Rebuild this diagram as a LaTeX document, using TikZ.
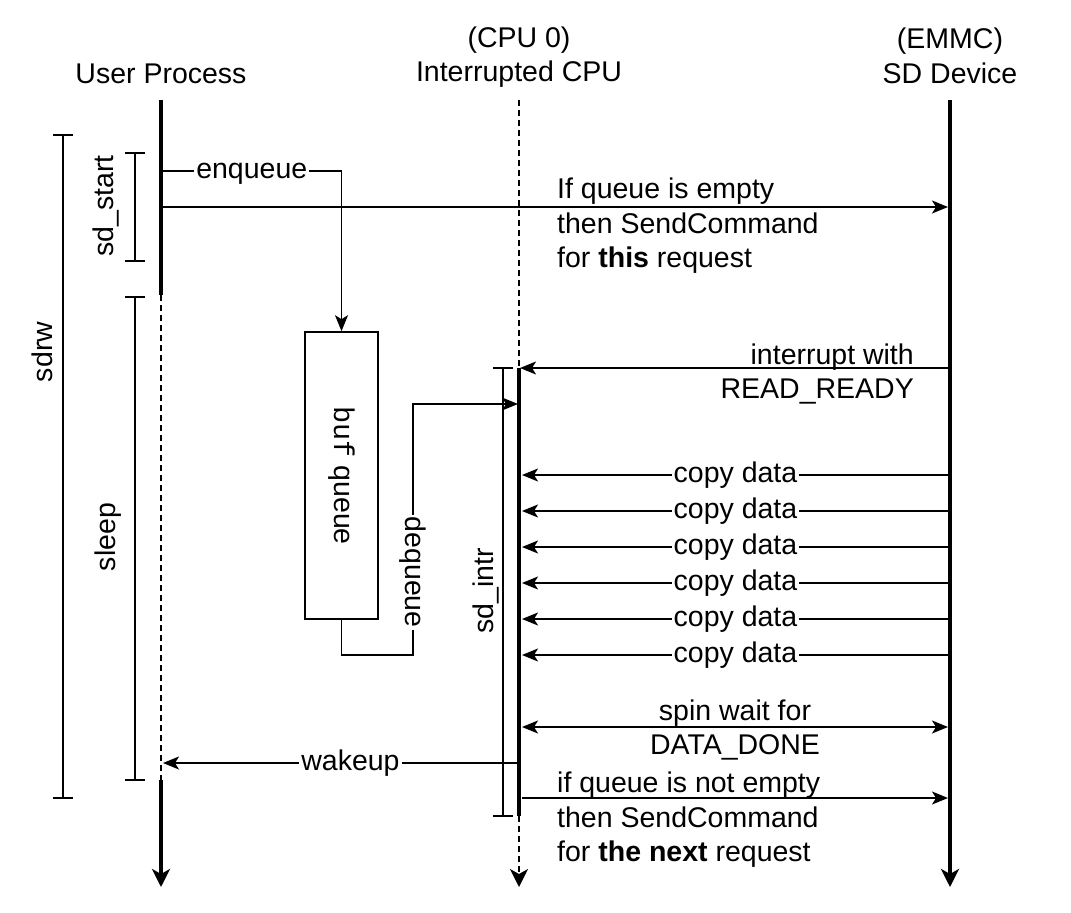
\documentclass[tikz,border=0pt]{standalone}
\usepackage{fontspec}
\setmainfont{Liberation Sans}
\newfontfamily\monofont{Liberation Mono}
\usetikzlibrary{arrows.meta}
\begin{document}
\begin{tikzpicture}[x=1pt,y=-1pt,
  thinline/.style={line width=1.6pt},
  thickline/.style={line width=3.6pt},
  dashline/.style={line width=1.6pt, dash pattern=on 6pt off 4pt},
  tip/.tip={Stealth[length=16pt,width=13pt,inset=4pt]},
  bigtip/.tip={Stealth[length=18pt,width=18pt,inset=5pt]},
  msg/.style={thinline,-tip},
  lbl/.style={font=\fontsize{28.5}{34.5}\selectfont, inner sep=1pt},
  onl/.style={lbl, fill=white, inner sep=2pt, text height=20.5pt, text depth=6pt},
  bracket/.style={thinline}
]
\useasboundingbox (0,0) rectangle (1071,913);

% headers
\node[lbl] (hU) at (161,74) {User Process};
\node[lbl, align=center] (hC) at (519,57) {(CPU 0)\\Interrupted CPU};
\node[lbl, align=center] (hS) at (950,56) {(EMMC)\\SD Device};

% lifeline coordinates
\coordinate (u0) at (161,100);
\coordinate (u1) at (161,295);
\coordinate (u2) at (161,780);
\coordinate (u3) at (161,887);
\coordinate (c0) at (519,100);
\coordinate (c1) at (519,368);
\coordinate (c2) at (519,816);
\coordinate (c3) at (519,887);
\coordinate (s0) at (950,100);
\coordinate (s3) at (950,887);

% user lifeline
\draw[thickline] (u0) -- (u1);
\draw[dashline] (u1) -- (u2);
\draw[thickline,-bigtip] (u2) -- (u3);
% cpu lifeline
\draw[dashline] (c0) -- (c1);
\draw[thickline] (c1) -- (c2);
\draw[dashline,-bigtip] (c2) -- (c3);
% sd lifeline
\draw[thickline,-bigtip] (s0) -- (s3);

% brackets
\draw[bracket] (53,135) -- (73,135) (63,135) -- (63,798) (53,798) -- (73,798);
\node[lbl, rotate=90] (lsdrw) at (42,352) {sdrw};
\draw[bracket] (125,153) -- (145,153) (135,153) -- (135,261) (125,261) -- (145,261);
\node[lbl, rotate=90] (lstart) at (106,206) {sd\_start};
\draw[bracket] (125,297) -- (145,297) (135,297) -- (135,780) (125,780) -- (145,780);
\node[lbl, rotate=90] (lsleep) at (108,537) {sleep};
\draw[bracket] (493,368) -- (513,368) (503,368) -- (503,816) (493,816) -- (513,816);
\node[lbl, rotate=90] (lintr) at (486,591) {sd\_intr};

% queue box
\node[draw, thinline, minimum width=73pt, minimum height=287pt, inner sep=0pt] (q) at (341.5,475.5) {};
\node[lbl, rotate=-90] (qt) at (q.center) {{\monofont buf} queue};

% enqueue
\coordinate (uE) at (162,171);
\draw[msg] (uE) -| node[onl, pos=0.25] (enq) {enqueue} (q.north);

% dequeue
\coordinate (dq1) at (341.5,655);
\coordinate (dq2) at (413,655);
\coordinate (dq3) at (413,404);
\coordinate (cD) at (518,404);
\draw[msg] (q.south) -- (dq1) -- (dq2) -- node[onl, rotate=-90, pos=0.33] (deq) {dequeue} (dq3) -- (cD);

% send command
\coordinate (uS) at (163,207);
\coordinate (sS) at (948,207);
\draw[msg] (uS) -- (sS);
\node[lbl, align=left, anchor=west] (tS) at (556,226) {If queue is empty\\then SendCommand\\for \textbf{this} request};

% interrupt
\coordinate (sI) at (949,368);
\coordinate (cI) at (520,368);
\draw[msg] (sI) -- (cI);
\node[lbl, align=right, anchor=east] (tI) at (915,374) {interrupt with\\READ\_READY};

% copy data
\foreach \y [count=\i] in {475,511,547,583,619,655} {
  \coordinate (sd\i) at (949,\y);
  \coordinate (cd\i) at (522,\y);
  \draw[msg] (sd\i) -- node[onl] (cp\i) {copy data} (cd\i);
}

% spin wait
\coordinate (cW) at (522,727);
\coordinate (sW) at (948,727);
\draw[thinline, tip-tip] (cW) -- (sW);
\node[lbl, align=center] (tW) at (735,730) {spin wait for\\DATA\_DONE};

% wakeup
\coordinate (cK) at (518,763);
\coordinate (uK) at (163,763);
\draw[msg] (cK) -- node[onl, pos=0.472] (wk) {wakeup} (uK);

% next command
\coordinate (cN) at (522,798);
\coordinate (sN) at (948,798);
\draw[msg] (cN) -- (sN);
\node[lbl, align=left, anchor=west] (tN) at (556,820) {if queue is not empty\\then SendCommand\\for \textbf{the next} request};
\end{tikzpicture}
\end{document}
